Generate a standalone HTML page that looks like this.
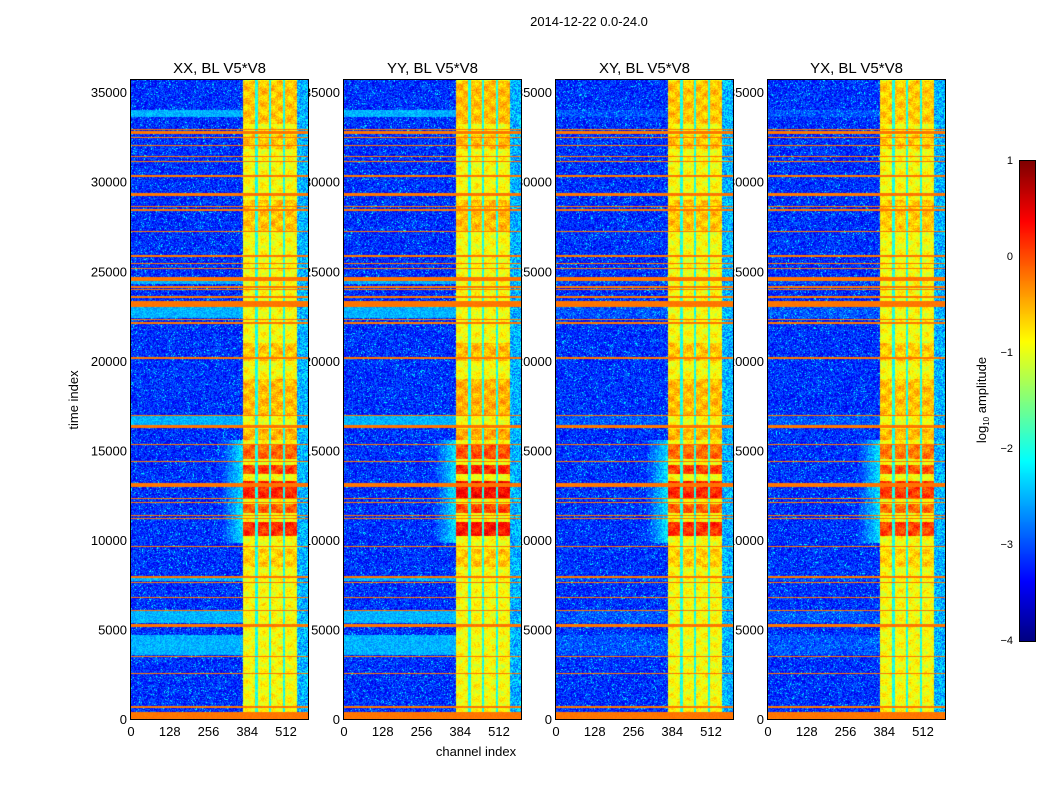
<!DOCTYPE html>
<html><head><meta charset="utf-8">
<style>
body{margin:0;background:#fff;width:1050px;height:800px;overflow:hidden;font-family:"Liberation Sans",sans-serif;}
#wrap{position:relative;width:1050px;height:800px;}
svg{position:absolute;left:0;top:0;}
canvas{position:absolute;}
</style></head>
<body><div id="wrap">
<svg id="labels" width="1050" height="800"></svg>
</div>
<script>
// ---- data ----
const panelTitles = ["XX, BL V5*V8","YY, BL V5*V8","XY, BL V5*V8","YX, BL V5*V8"];
const xTicks = [0,128,256,384,512];
const yTicks = [0,5000,10000,15000,20000,25000,30000,35000];
const cbTicks = [1,0,-1,-2,-3,-4];
// RFI rows: [time index, thickness in time units]
const rfiRows = [[32920,90],[32740,200],[32470,60],[32010,60],[31400,70],[31120,60],[30320,90],[29290,190],[28640,60],[28420,110],[27220,110],[25850,70],[25440,60],[25140,70],[24570,200],[24140,120],[23990,80],[23580,110],[23170,300],[22320,80],[22130,100],[20140,110],[16960,50],[16330,130],[15350,60],[14380,50],[13060,230],[12300,60],[12100,60],[11350,50],[11170,50],[9640,90],[7910,120],[7630,60],[6790,50],[6060,60],[5220,190],[3500,70],[2550,50],[670,60],[200,380]];
// cyan (elevated) bands in low channels: [start, end]
const cyanBands = [[3550,4700],[5350,6050],[16350,16950],[22400,23050],[24280,24650],[33600,34000],[7700,7950]];
const cyanStrength = [1,1,0.3,0.3];
// signal columns in channels: [start, end]
const columns = [[370,410],[420,456],[462,502],[509,548]];
const tailBand = [548,585];
// hot (bright) time ranges in the columns: [start, end, log value]
const hotRanges = [[10200,11000,0.15],[11500,12000,-0.1],[12350,13300,0.2],[13700,14200,0.05],[14500,15300,-0.15],[15600,16200,-0.5],[17000,19000,-0.55],[27200,29000,-0.6],[31800,32600,-0.6],[33200,35600,-0.6],[8500,9500,-0.65],[20000,21000,-0.6]];
const hotGain = [1,1.15,1,0.9];
const panelX = [131,344,556,768];

const T0=719, TS=0.01791, CS=0.3027, PW=177, PT=80, PH=639;
const svg=document.getElementById('labels');
const NS='http://www.w3.org/2000/svg';
function yOf(t){return T0-t*TS;}
function txt(x,y,s,size,anchor,name){const e=document.createElementNS(NS,'text');e.setAttribute('x',x);e.setAttribute('y',y);e.setAttribute('font-size',size);e.setAttribute('text-anchor',anchor||'middle');e.setAttribute('fill','#000');e.textContent=s;


svg.appendChild(e);return e;}

txt(589,26,"2014-12-22 0.0-24.0",13,'middle','figure-title');
txt(476,756,"channel index",13,'middle','x-axis-title');
const yt=txt(0,0,"time index",13,'middle','y-axis-title');yt.setAttribute('transform','translate(78,400) rotate(-90)');
const ct=txt(0,0,"",13,'middle','colorbar-label');ct.setAttribute('transform','translate(986,400) rotate(-90)');
ct.innerHTML='log<tspan font-size="8" dy="3">10</tspan><tspan dy="-3"> amplitude</tspan>';

panelX.forEach((px,i)=>{
  txt(px+PW/2,73,panelTitles[i],15,'middle','panel-title');
  yTicks.forEach(t=>{txt(px-4,yOf(t)+5,String(t),13,'end','y-tick-label');});
  xTicks.forEach(c=>{txt(px+c*CS,736,String(c),13,'middle','x-tick-label');});
});

function jet(v){let t=(v+4)/5;t=Math.max(0,Math.min(1,t));
 const c=x=>Math.round(255*Math.max(0,Math.min(1,1.5-Math.abs(x))));
 return [c(4*t-3),c(4*t-2),c(4*t-1)];}
function hash(a,b,c){let h=(a*374761393+b*668265263+c*982451653)|0;h=(h^(h>>>13))*1274126177|0;return ((h^(h>>>16))>>>0)/4294967296;}

const wrap=document.getElementById('wrap');
panelX.forEach((px,i)=>{
  const cv=document.createElement('canvas');cv.width=PW;cv.height=PH;
  cv.style.left=px+'px';cv.style.top=PT+'px';cv.style.zIndex=2;
  
  
  wrap.appendChild(cv);
  const ctx=cv.getContext('2d');const img=ctx.createImageData(PW,PH);
  for(let y=0;y<PH;y++){
    const t=(T0-(PT+y+0.5))/TS;
    let rfi=false;
    for(const r of rfiRows){if(Math.abs(t-r[0])<=Math.max(r[1]/2,28)){rfi=true;break;}}
    let cyan=0;for(const b of cyanBands){if(t>=b[0]&&t<=b[1]){cyan=cyanStrength[i];}}
    let hot=-0.9;for(const h of hotRanges){if(t>=h[0]&&t<=h[1]){hot=-0.9+(h[2]+0.9)*hotGain[i];}}
    const spread=(t>9800&&t<15600)?1:0;
    for(let x=0;x<PW;x++){
      const ch=(x+0.5)/CS;
      const n=hash(x,y,i);
      let v;
      if(rfi){v=-0.2+(n-0.5)*0.1;}
      else{
        let inCol=-1;columns.forEach((c,k)=>{if(ch>=c[0]&&ch<c[1])inCol=k;});
        if(inCol>=0){v=hot+(n-0.5)*0.45+0.2*Math.sin(t/120+inCol*1.7)*Math.sin(ch/9);}
        else if(ch>=370&&ch<548){v=-2.0+(n-0.5)*0.5;}
        else if(ch>=tailBand[0]){v=-2.5+(n-0.5)*1.0;}
        else{
          v=-3.15+(n-0.5)*0.9+(n>0.96?0.6:0);
          if(cyan>0)v=v*(1-cyan)+(-2.5+(n-0.5)*0.5)*cyan;
          if(spread&&ch>290){v=Math.max(v,-3.2+(ch-290)/80*1.0+(n-0.5)*0.7);}
        }
      }
      const [r,g,b]=jet(v);const o=(y*PW+x)*4;
      img.data[o]=r;img.data[o+1]=g;img.data[o+2]=b;img.data[o+3]=255;
    }
  }
  ctx.putImageData(img,0,0);
  const fr=document.createElement('div');
  fr.style.cssText=`position:absolute;left:${px-1}px;top:${PT-1}px;width:${PW}px;height:${PH}px;border:1px solid #000;z-index:3;`;
  
  
  wrap.appendChild(fr);
});

// colorbar
const cb=document.createElement('canvas');cb.width=15;cb.height=480;
cb.style.cssText='left:1019px;top:160px;z-index:2;border:1px solid #000;';


wrap.appendChild(cb);
const cctx=cb.getContext('2d');
for(let y=0;y<480;y++){const v=1-5*y/480;const [r,g,b]=jet(v);cctx.fillStyle=`rgb(${r},${g},${b})`;cctx.fillRect(0,y,15,1);}
cbTicks.forEach(v=>{const y=160+(1-v)*96;txt(1013,y+4,v<0?'\u2212'+(-v):String(v),11,'end','colorbar-tick-label');});
</script>
</body></html>
